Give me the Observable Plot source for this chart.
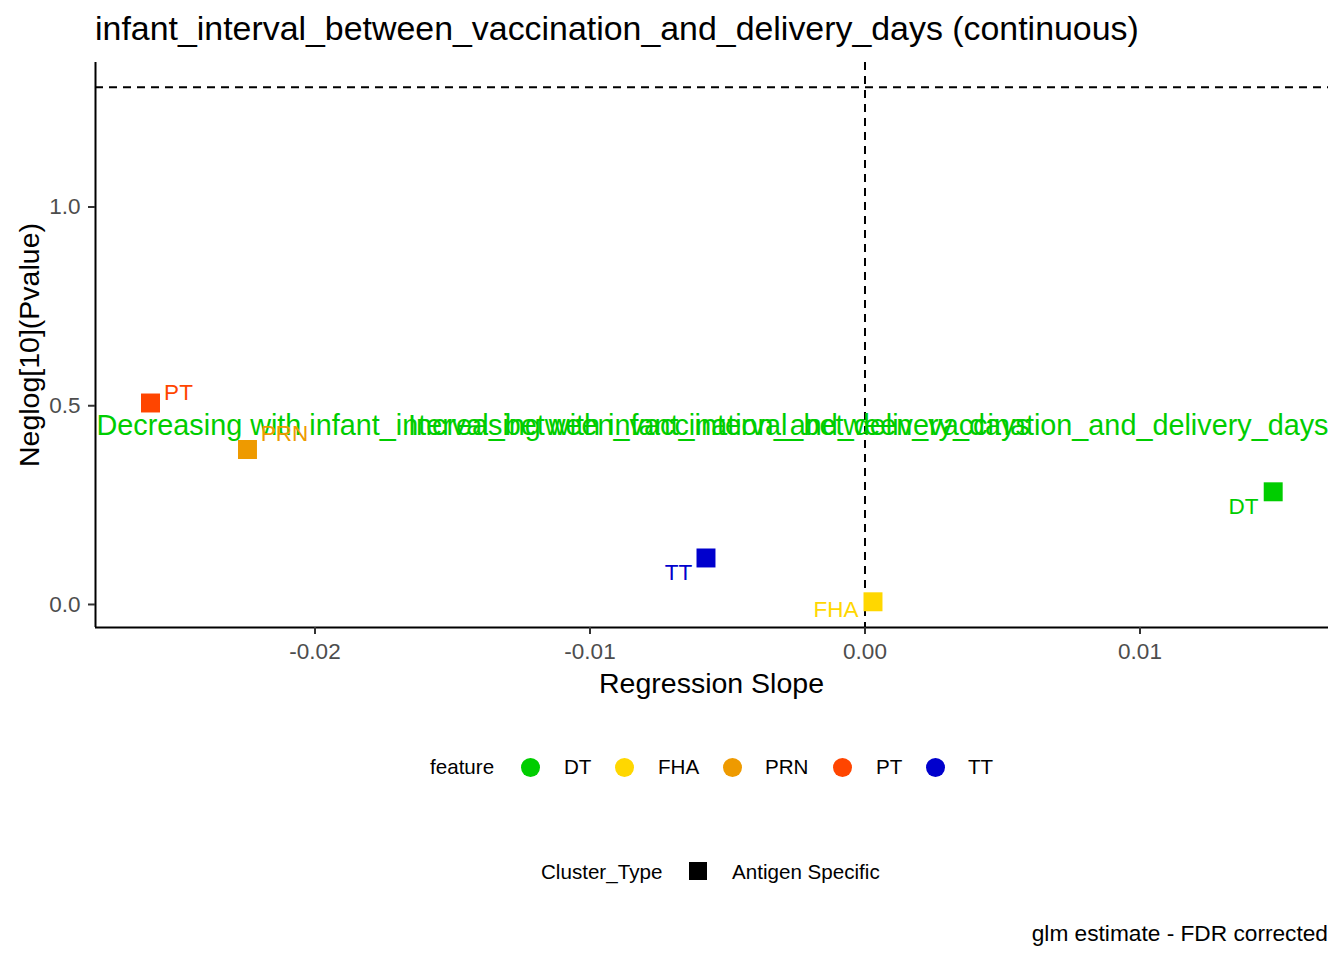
<!DOCTYPE html>
<html>
<head>
<meta charset="utf-8">
<script src="https://cdn.jsdelivr.net/npm/d3@7"></script>
<script src="https://cdn.jsdelivr.net/npm/@observablehq/plot@0.6"></script>
<style>
  html, body { margin: 0; padding: 0; background: #fff; }
  #root { position: relative; width: 1344px; height: 960px; overflow: hidden;
          font-family: "Liberation Sans", Arial, sans-serif; color: #000; }
  #root svg.plot { position: absolute; left: 0; top: 0; }
  .t { position: absolute; white-space: nowrap; line-height: 1; }
</style>
</head>
<body>
<div id="root"></div>
<script>
// ---- data ----
const features = ["DT", "FHA", "PRN", "PT", "TT"];
const featureColors = ["#00CD00", "#FFD700", "#EE9A00", "#FF4500", "#0000CD"];
const slopes = [0.014844, 0.000291, -0.022455, -0.025982, -0.005782];
const neglogP = [0.2835, 0.0068, 0.3899, 0.5069, 0.1170];
const clusterTypes = ["Antigen Specific"];
const xTicks = [-0.02, -0.01, 0, 0.01];
const xTickLabels = ["-0.02", "-0.01", "0.00", "0.01"];
const yTicks = [0, 0.5, 1];
const yTickLabels = ["0.0", "0.5", "1.0"];
const fdrThreshold = -Math.log10(0.05);
const trendTexts = [
  "Decreasing with infant_interval_between_vaccination_and_delivery_days",
  "Increasing with infant_interval_between_vaccination_and_delivery_days"
];
const trendY = 0.45;
const titleText = "infant_interval_between_vaccination_and_delivery_days (continuous)";
const xLabel = "Regression Slope";
const yLabel = "Neglog[10](Pvalue)";
const captionText = "glm estimate - FDR corrected";

// ---- layout (styling only) ----
const xDomain = [-0.027982, 0.016855];
const yDomain = [-0.0579, 1.3635];
const labelOffsets = {DT: [-29.7, 15.2], FHA: [-37, 8.2], PRN: [37, -15.5], PT: [28, -10.5], TT: [-27.5, 14.5]};
const FONT = '"Liberation Sans", Arial, sans-serif';

const rows = features.map((f, i) => ({feature: f, slope: slopes[i], p: neglogP[i], cluster: clusterTypes[0]}));

const labelMarks = features.map(f => Plot.text(rows.filter(r => r.feature === f), {
  x: "slope", y: "p", text: "feature", fill: "feature",
  dx: labelOffsets[f][0], dy: labelOffsets[f][1], fontSize: 22.5,
  textAnchor: "middle", lineAnchor: "middle"
}));

const chart = Plot.plot({
  width: 1344, height: 960,
  marginLeft: 95, marginRight: 16, marginTop: 62, marginBottom: 333,
  style: {fontFamily: FONT, background: "transparent", overflow: "visible"},
  x: {domain: xDomain, axis: null},
  y: {domain: yDomain, axis: null},
  color: {domain: features, range: featureColors},
  marks: [
    Plot.ruleX([0], {stroke: "#000", strokeWidth: 2, strokeDasharray: "8,6"}),
    Plot.ruleY([fdrThreshold], {stroke: "#000", strokeWidth: 2, strokeDasharray: "8,6"}),
    Plot.text([trendTexts[0]], {x: () => xDomain[0], y: () => trendY, text: d => d, textAnchor: "start", lineAnchor: "middle", dx: 1, fill: featureColors[0], fontSize: 28.8}),
    Plot.text([trendTexts[1]], {x: () => xDomain[1], y: () => trendY, text: d => d, textAnchor: "end", lineAnchor: "middle", dx: 0, fill: featureColors[0], fontSize: 28.8}),
    Plot.dot(rows, {x: "slope", y: "p", fill: "feature", symbol: "square", r: 10.7}),
    ...labelMarks,
    Plot.ruleX([xDomain[0]], {stroke: "#000", strokeWidth: 2}),
    Plot.ruleY([yDomain[0]], {stroke: "#000", strokeWidth: 2}),
    Plot.axisX(xTicks, {tickFormat: d => xTickLabels[xTicks.indexOf(d)], tickSize: 7, tickPadding: 9,
      fontSize: 22.5, stroke: "#333333", fill: "#4D4D4D", strokeWidth: 2, label: null}),
    Plot.axisY(yTicks, {tickFormat: d => yTickLabels[yTicks.indexOf(d)], tickSize: 7, tickPadding: 8,
      fontSize: 22.5, stroke: "#333333", fill: "#4D4D4D", strokeWidth: 2, label: null})
  ]
});
chart.classList.add("plot");

const root = document.getElementById("root");
root.appendChild(chart);

function addText(txt, opts) {
  const d = document.createElement("div");
  d.className = "t";
  d.textContent = txt;
  Object.assign(d.style, opts);
  root.appendChild(d);
  return d;
}

// title
addText(titleText, {left: "95px", top: "11.5px", fontSize: "33.9px"});
// x label
addText(xLabel, {left: "711.5px", top: "683px", fontSize: "28.5px", transform: "translate(-50%,-50%)"});
// y label
addText(yLabel, {left: "28.5px", top: "344.5px", fontSize: "28.5px", transform: "translate(-50%,-50%) rotate(-90deg)"});
// caption
addText(captionText, {right: "16px", top: "933px", fontSize: "22.7px", transform: "translateY(-50%)"});

// legend: feature
const legendFS = "20.6px";
addText("feature", {left: "430px", top: "767px", fontSize: legendFS, transform: "translateY(-50%)"});
const circleX = [530, 624, 732, 842, 935];
const labelX = [564, 658, 765, 876, 968];
features.forEach((f, i) => {
  const c = document.createElement("div");
  Object.assign(c.style, {position: "absolute", left: (circleX[i] - 9.5) + "px", top: (767 - 9.5) + "px",
    width: "19px", height: "19px", borderRadius: "50%", background: featureColors[i]});
  root.appendChild(c);
  addText(f, {left: labelX[i] + "px", top: "767px", fontSize: legendFS, transform: "translateY(-50%)"});
});
// legend: Cluster_Type
addText("Cluster_Type", {left: "541px", top: "872px", fontSize: legendFS, transform: "translateY(-50%)"});
const sq = document.createElement("div");
Object.assign(sq.style, {position: "absolute", left: (698 - 9) + "px", top: (871 - 9) + "px", width: "18px", height: "18px", background: "#000"});
root.appendChild(sq);
addText(clusterTypes[0], {left: "732px", top: "872px", fontSize: legendFS, transform: "translateY(-50%)"});
</script>
</body>
</html>
